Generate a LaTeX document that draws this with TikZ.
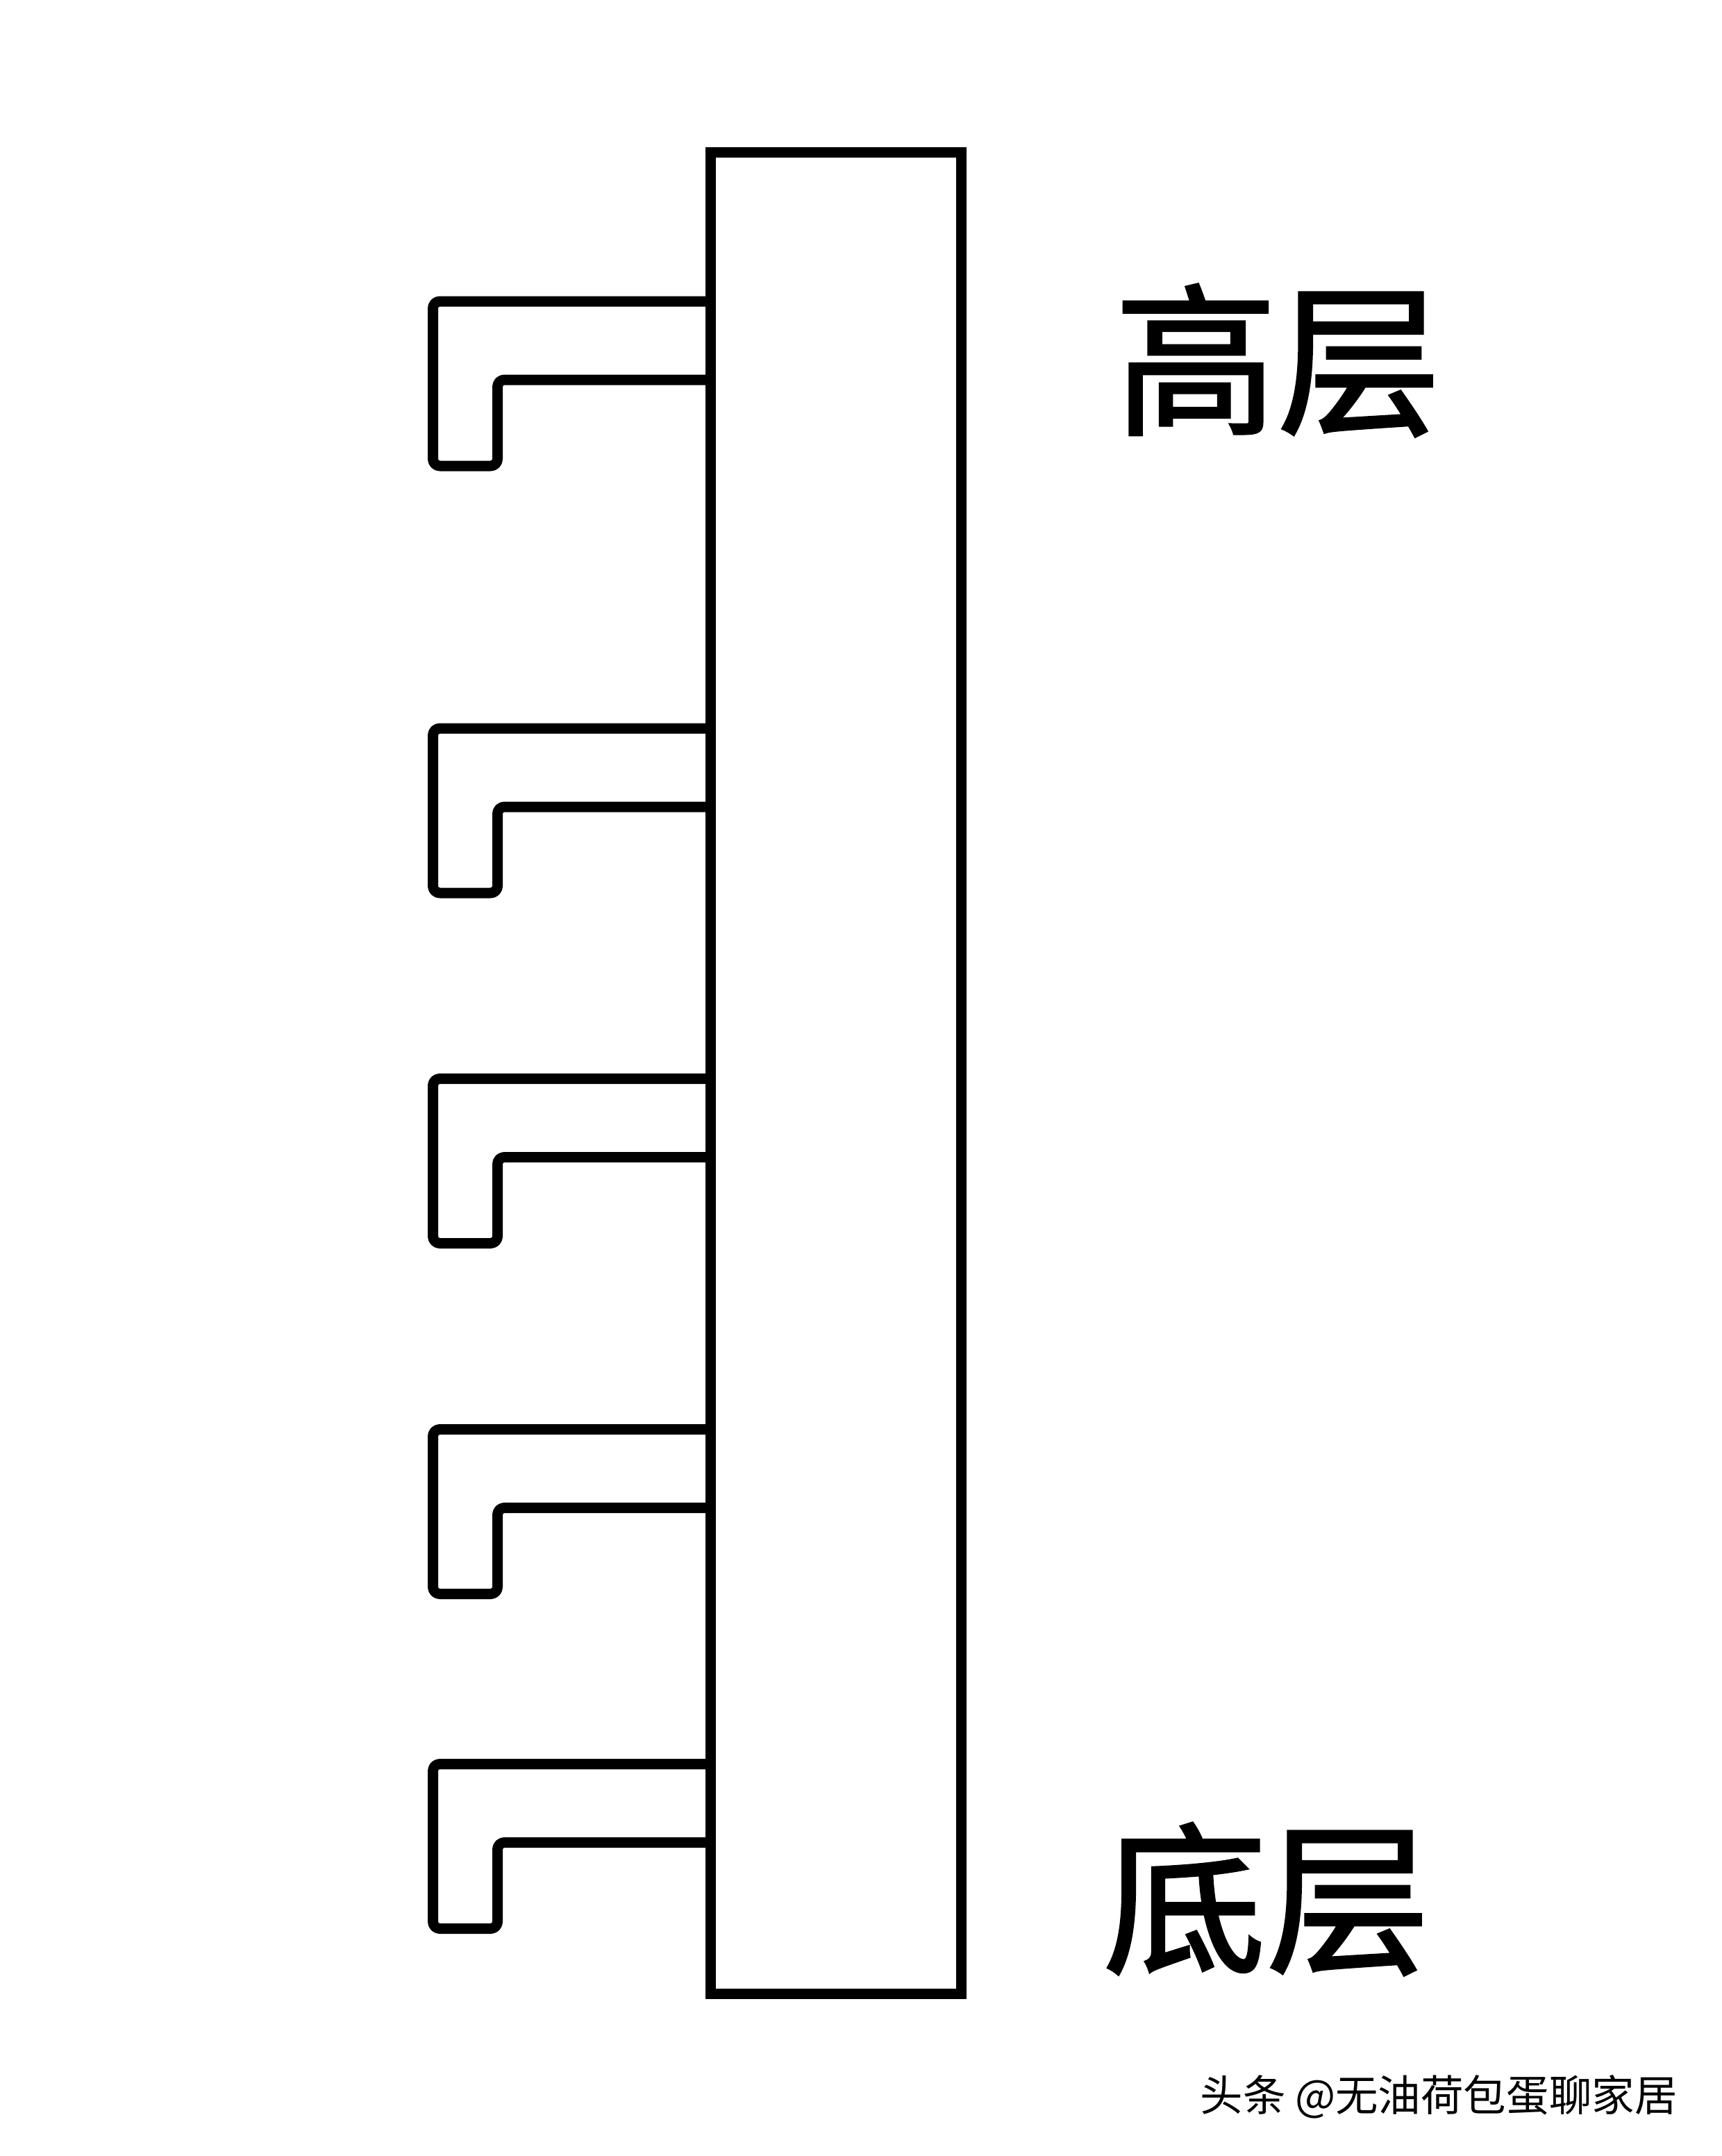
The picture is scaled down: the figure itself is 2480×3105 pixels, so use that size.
\documentclass[tikz,border=0pt]{standalone}
\usepackage{fontspec}
\newfontfamily\cjk{Noto Sans CJK SC}
\newfontfamily\cjkmid{Noto Sans CJK SC}[FakeBold=1.6]
\usetikzlibrary{positioning}

\tikzset{
	bar/.style={draw,line width=1.5mm,line join=miter,inner sep=0pt},
	hookline/.style={line width=1.5mm,line join=round},
	big/.style={font=\cjkmid\fontsize{67}{67}\selectfont,inner sep=0pt},
	small/.style={font=\cjk\fontsize{17.5}{17.5}\selectfont,inner sep=0pt}
}

\begin{document}
\begin{tikzpicture}[x=0.1mm,y=-0.1mm]
	\useasboundingbox (0,0) rectangle (2480,3105);
	\node[bar,minimum width=36.1mm,minimum height=265.2mm] (pole) at (1204,1545.5) {};
	\node[big] (high) at (1840,519) {高层};
	\node[big] (low) at (1824,2735) {底层};
	\node[small] (mark) at (2072,3020) {头条 @无油荷包蛋聊家居};
	\foreach \y in {434,1049,1553.5,2058.5,2540.5}{
		\draw [hookline,rounded corners=1mm](pole.west |- 0,\y) -- (623.5,\y) -- (623.5,\y+237) -- (716.5,\y+237) -- (716.5,\y+113) [sharp corners] -- (pole.west |- 0,\y+113);
	}
	\end{tikzpicture}
\end{document}
